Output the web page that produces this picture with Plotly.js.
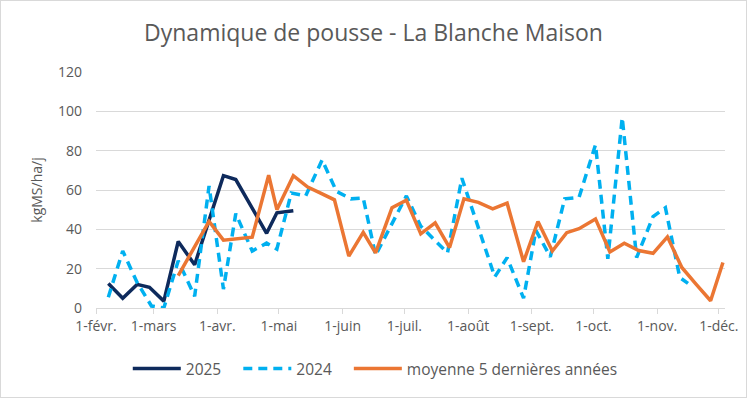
<!DOCTYPE html>
<html>
<head>
<meta charset="utf-8">
<script src="https://cdn.plot.ly/plotly-3.0.1.min.js"></script>
<style>
  html, body { margin: 0; padding: 0; background: #fff; }
  #chart { width: 747px; height: 398px; box-sizing: border-box; border: 1px solid #d9d9d9; }
</style>
</head>
<body>
<div id="chart"></div>
<script>
// ---- Data ----
const dates2025 = ['2025-02-07','2025-02-14','2025-02-21','2025-02-27','2025-03-06','2025-03-13','2025-03-21','2025-04-04','2025-04-10','2025-04-25','2025-04-30','2025-05-08'];
const values2025 = [12.5, 5, 12, 10.5, 3.5, 33.8, 22, 67.3, 65.3, 38, 48.4, 49.5];

const dates2024 = ['2025-02-07','2025-02-14','2025-02-21','2025-02-28','2025-03-06','2025-03-13','2025-03-21','2025-03-28','2025-04-04','2025-04-10','2025-04-18','2025-04-25','2025-04-30','2025-05-07','2025-05-14','2025-05-22','2025-05-29','2025-06-05','2025-06-11','2025-06-17','2025-07-02','2025-07-09','2025-07-22','2025-07-29','2025-08-14','2025-08-20','2025-08-28','2025-09-03','2025-09-10','2025-09-17','2025-09-24','2025-10-02','2025-10-08','2025-10-15','2025-10-22','2025-10-30','2025-11-05','2025-11-12','2025-11-16'];
const values2024 = [5.5, 29, 13, 1, 0, 24, 6, 62, 9.6, 48, 29, 33, 30, 58.5, 57, 75.3, 59.3, 55.5, 56, 26.8, 57, 41.6, 28, 66, 15.8, 25.6, 5, 39.5, 26, 55.5, 56.3, 83, 25, 96.8, 25.6, 46.5, 51, 15.5, 12.5];

const datesAvg = ['2025-03-13','2025-03-28','2025-04-04','2025-04-12','2025-04-18','2025-04-26','2025-04-30','2025-05-08','2025-05-15','2025-05-21','2025-05-28','2025-06-04','2025-06-11','2025-06-17','2025-06-25','2025-07-02','2025-07-09','2025-07-16','2025-07-23','2025-07-30','2025-08-06','2025-08-13','2025-08-20','2025-08-28','2025-09-04','2025-09-11','2025-09-18','2025-09-24','2025-10-02','2025-10-09','2025-10-16','2025-10-23','2025-10-30','2025-11-06','2025-11-13','2025-11-20','2025-11-27','2025-12-03'];
const valuesAvg = [16.5, 44, 34.5, 35.2, 36, 67.5, 50, 67.3, 61.5, 58.5, 55, 26.4, 38.5, 28, 51, 54.8, 37.7, 43.3, 30.7, 55.5, 53.7, 50.4, 53.3, 23.5, 44, 29, 38.3, 40.3, 45.3, 28.5, 32.9, 29.2, 27.8, 36.2, 20.6, 12, 3.7, 23.1];

const tickDates = ['2025-02-01','2025-03-01','2025-04-01','2025-05-01','2025-06-01','2025-07-01','2025-08-01','2025-09-01','2025-10-01','2025-11-01','2025-12-01'];
const tickLabels = ['1-févr.','1-mars','1-avr.','1-mai','1-juin','1-juil.','1-août','1-sept.','1-oct.','1-nov.','1-déc.'];

const seriesNames = ['2025', '2024', 'moyenne 5 dernières années'];

// ---- Chart ----
const FONT = '"Open Sans", Roboto, sans-serif';
const GREY = '#595959';
const PAD = '\u00a0\u00a0\u00a0';

const traces = [
  { x: dates2025, y: values2025, name: seriesNames[0] + PAD, type: 'scatter', mode: 'lines',
    line: { color: '#0E2A5C', width: 3.5, shape: 'linear' } },
  { x: dates2024, y: values2024, name: seriesNames[1] + PAD, type: 'scatter', mode: 'lines',
    line: { color: '#00B0F0', width: 3.5, dash: '9px,6px' } },
  { x: datesAvg, y: valuesAvg, name: seriesNames[2], type: 'scatter', mode: 'lines',
    line: { color: '#EB7633', width: 3.5 } }
];

const layout = {
  width: 745, height: 396,
  margin: { l: 95, r: 21, t: 71, b: 88 },
  paper_bgcolor: '#ffffff', plot_bgcolor: '#ffffff',
  font: { family: FONT, color: GREY, size: 14 },
  title: { text: 'Dynamique de pousse - La Blanche Maison', font: { family: FONT, size: 23, color: GREY },
           x: 0.5, xanchor: 'center', xref: 'container', y: 0.92, yanchor: 'middle' },
  showlegend: true,
  legend: { orientation: 'h', x: 0.444, xanchor: 'center', y: -0.253, yanchor: 'middle',
            font: { family: FONT, size: 15.5, color: GREY }, itemwidth: 48, traceorder: 'normal' },
  xaxis: {
    type: 'date', range: ['2025-02-01', '2025-12-04'],
    tickmode: 'array', tickvals: tickDates, ticktext: tickLabels,
    ticks: 'outside', ticklen: 5, tickcolor: '#d9d9d9', tickwidth: 1,
    showgrid: false, showline: true, linecolor: '#d9d9d9', linewidth: 1,
    zeroline: false, tickfont: { family: FONT, size: 14, color: GREY }
  },
  yaxis: {
    range: [0, 120], tickmode: 'array', tickvals: [0, 20, 40, 60, 80, 100, 120],
    showgrid: true, gridcolor: '#d9d9d9', gridwidth: 1, zeroline: false, showline: false,
    ticklabelstandoff: 13, tickfont: { family: FONT, size: 14, color: GREY },
    title: { text: 'kgMS/ha/j', font: { family: FONT, size: 14, color: GREY }, standoff: 12 }
  }
};

Plotly.newPlot('chart', traces, layout, { displayModeBar: false, staticPlot: true });
</script>
</body>
</html>
